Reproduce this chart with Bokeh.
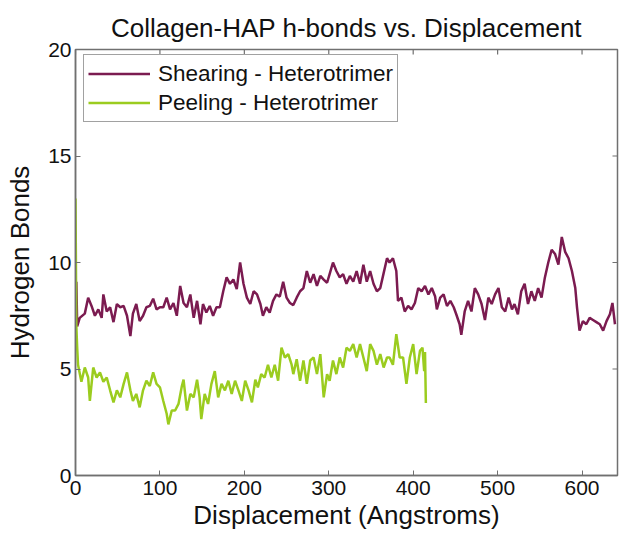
import math
from bokeh.plotting import figure
from bokeh.models import Range1d, FixedTicker, Legend, LegendItem
from bokeh.embed import file_html
from bokeh.resources import INLINE

title_text = "Collagen-HAP h-bonds vs. Displacement"
x_label = "Displacement (Angstroms)"
y_label = "Hydrogen Bonds"
x_ticks = [0, 100, 200, 300, 400, 500, 600]
y_ticks = [0, 5, 10, 15, 20]
series_names = ["Shearing - Heterotrimer", "Peeling - Heterotrimer"]
X_MAX = 642
Y_MAX = 20

shear_x = [0, 1, 2, 5, 11, 15, 19, 23, 27, 31, 33, 37, 41, 45, 49, 53, 57, 61, 65, 68,
           72, 76, 80, 84, 88, 92, 96, 100, 104, 108, 112, 116, 120, 124, 128, 132, 136, 140, 144, 148,
           151, 155, 159, 163, 167, 171, 175, 179, 183, 187, 191, 195, 199, 203, 207, 211, 215, 219, 222, 226,
           230, 234, 238, 242, 246, 250, 254, 258, 262, 266, 270, 274, 278, 282, 286, 290, 294, 298, 301, 305,
           309, 313, 317, 321, 325, 329, 333, 337, 341, 345, 349, 353, 357, 361, 365, 369, 372, 376, 380, 382,
           386, 390, 394, 398, 402, 406, 410, 414, 418, 422, 426, 428, 432, 436, 440, 444, 448, 451, 455, 457,
           461, 465, 469, 473, 477, 481, 485, 489, 493, 497, 501, 505, 509, 513, 517, 520, 524, 528, 532, 536,
           540, 544, 548, 552, 556, 560, 564, 568, 572, 576, 580, 584, 588, 592, 594, 597, 601, 605, 609, 613,
           617, 621, 625, 629, 633, 636, 639]
shear_y = [7.2, 9.1, 7.0, 7.4, 7.6, 8.35, 7.96, 7.5, 7.8, 7.4, 8.5, 7.7, 7.9, 7.2, 8.05, 7.9, 7.96, 7.5, 6.55, 7.6,
           8.05, 7.25, 7.5, 7.9, 7.96, 8.3, 7.8, 7.9, 7.9, 8.35, 7.8, 8.1, 7.5, 8.9, 8.1, 7.9, 8.5, 7.4, 8.2, 7.1,
           8.05, 7.65, 7.96, 7.5, 7.9, 7.9, 8.65, 9.3, 9.0, 9.2, 8.75, 10.0, 9.0, 8.35, 8.05, 8.65, 8.5, 8.05, 7.5, 7.9,
           7.65, 8.2, 8.5, 8.4, 9.1, 8.35, 8.1, 8.0, 8.35, 8.65, 8.8, 9.6, 9.05, 9.45, 8.9, 9.37, 9.2, 9.05, 9.45, 10.0,
           9.6, 9.3, 9.45, 9.0, 9.37, 9.1, 9.6, 9.0, 9.9, 9.1, 9.6, 9.0, 8.65, 8.8, 9.5, 10.2, 10.0, 10.2, 9.6, 8.2,
           8.35, 7.7, 7.96, 7.8, 8.1, 8.8, 8.65, 8.9, 8.5, 8.8, 8.4, 7.8, 8.35, 8.5, 7.96, 8.2, 7.9, 7.57, 7.1, 6.6,
           7.7, 8.2, 7.7, 8.8, 8.5, 8.05, 7.3, 8.35, 8.05, 8.5, 8.8, 7.9, 7.7, 8.35, 7.8, 8.05, 7.57, 8.65, 9.0, 8.05,
           8.65, 8.2, 8.8, 8.35, 9.3, 10.0, 10.6, 10.4, 9.9, 11.2, 10.5, 10.2, 9.6, 8.8, 7.9, 6.8, 7.25, 7.1, 7.4, 7.3,
           7.2, 7.1, 6.8, 7.25, 7.57, 8.1, 7.1]

peel_x = [0, 1, 2, 3, 7, 11, 15, 17, 21, 25, 29, 33, 37, 41, 45, 49, 53, 57, 61, 65,
          68, 72, 76, 80, 84, 88, 92, 96, 100, 104, 108, 110, 114, 118, 122, 126, 128, 132, 136, 140,
          144, 147, 149, 153, 157, 161, 165, 169, 173, 177, 181, 185, 189, 193, 197, 201, 205, 209, 213, 216,
          220, 224, 228, 232, 236, 240, 244, 248, 252, 256, 258, 262, 266, 270, 274, 278, 282, 286, 290, 294,
          298, 301, 305, 309, 313, 317, 321, 325, 329, 333, 337, 341, 345, 349, 353, 357, 361, 365, 369, 372,
          376, 380, 384, 388, 392, 396, 400, 404, 408, 411, 413, 414, 415]
peel_y = [13.0, 7.0, 6.0, 5.2, 4.4, 5.07, 4.6, 3.5, 5.07, 4.6, 4.84, 4.4, 4.6, 4.0, 3.43, 4.0, 3.67, 4.3, 4.84, 4.0,
          3.5, 3.83, 3.2, 4.0, 4.45, 4.2, 4.84, 4.3, 4.14, 3.5, 2.9, 2.4, 3.05, 3.05, 3.36, 4.2, 4.5, 3.05, 3.83, 3.67,
          4.5, 3.67, 2.65, 3.83, 3.36, 4.3, 4.9, 3.67, 4.3, 4.0, 4.45, 3.83, 4.45, 4.0, 3.5, 4.45, 4.0, 3.43, 4.5, 4.14,
          4.76, 4.6, 5.2, 4.6, 5.2, 4.45, 6.0, 5.54, 5.7, 5.2, 4.76, 5.46, 4.45, 5.4, 4.3, 5.4, 5.54, 4.76, 5.7, 3.67,
          4.76, 4.45, 5.4, 4.76, 5.54, 5.07, 6.0, 5.85, 6.17, 5.54, 6.17, 5.54, 4.9, 6.17, 5.85, 5.2, 5.7, 5.07, 5.54, 5.54,
          5.2, 6.64, 5.54, 5.54, 4.3, 5.54, 6.17, 4.76, 5.85, 6.0, 4.9, 5.8, 3.4]

FONT = "Liberation Sans"
shear_color = "#7b1b50"
peel_color = "#9bcc1f"
AX = "#707070"

p = figure(width=621, height=533, output_backend="svg", toolbar_location=None,
           x_range=Range1d(0, X_MAX), y_range=Range1d(0, Y_MAX),
           min_border_left=75, min_border_right=4, min_border_top=49, min_border_bottom=58,
           title=title_text)
p.title.align = "center"
p.title.text_font = FONT
p.title.text_font_size = "26px"
p.title.text_font_style = "normal"
p.title.text_color = "#111111"
p.title.standoff = 14

p.xgrid.visible = False
p.ygrid.visible = False
p.outline_line_color = AX
p.outline_line_width = 1.5

xax = p.below[0]
yax = p.left[0]
for ax in (xax, yax):
    ax.major_tick_in = 5
    ax.major_tick_out = 0
    ax.minor_tick_in = 0
    ax.minor_tick_out = 0
    ax.axis_line_color = AX
    ax.axis_line_width = 1.5
    ax.major_tick_line_color = AX
    ax.major_label_text_font = FONT
    ax.major_label_text_font_size = "21px"
    ax.major_label_text_color = "#111111"
    ax.axis_label_text_font = FONT
    ax.axis_label_text_font_size = "26px"
    ax.axis_label_text_font_style = "normal"
    ax.axis_label_text_color = "#111111"

xax.ticker = FixedTicker(ticks=x_ticks)
yax.ticker = FixedTicker(ticks=y_ticks)
xax.axis_label = x_label
yax.axis_label = y_label
xax.major_label_standoff = 5
xax.axis_label_standoff = 2
yax.major_label_standoff = 4
yax.axis_label_standoff = 10

# inward ticks on the top and right edges of the box (clipped to the frame)
p.scatter(x=x_ticks, y=[Y_MAX] * len(x_ticks), marker="dash", angle=math.pi / 2,
          size=10, line_color=AX, line_width=1.2)
p.scatter(x=[X_MAX] * len(y_ticks), y=y_ticks, marker="dash",
          size=10, line_color=AX, line_width=1.2)

r1 = p.line(shear_x, shear_y, line_color=shear_color, line_width=2.5)
r2 = p.line(peel_x, peel_y, line_color=peel_color, line_width=2.5)

legend = Legend(items=[LegendItem(label=series_names[0], renderers=[r1]),
                       LegendItem(label=series_names[1], renderers=[r2])],
                location=(8, 353))
legend.label_text_font = FONT
legend.label_text_font_size = "22.5px"
legend.label_text_color = "#111111"
legend.glyph_width = 62
legend.glyph_height = 29
legend.label_height = 29
legend.label_standoff = 8
legend.spacing = 0
legend.padding = 4
legend.margin = 0
legend.border_line_color = "#444444"
legend.border_line_width = 1
legend.background_fill_alpha = 1.0
p.add_layout(legend, "center")

open("out.html", "w").write(file_html(p, INLINE))
